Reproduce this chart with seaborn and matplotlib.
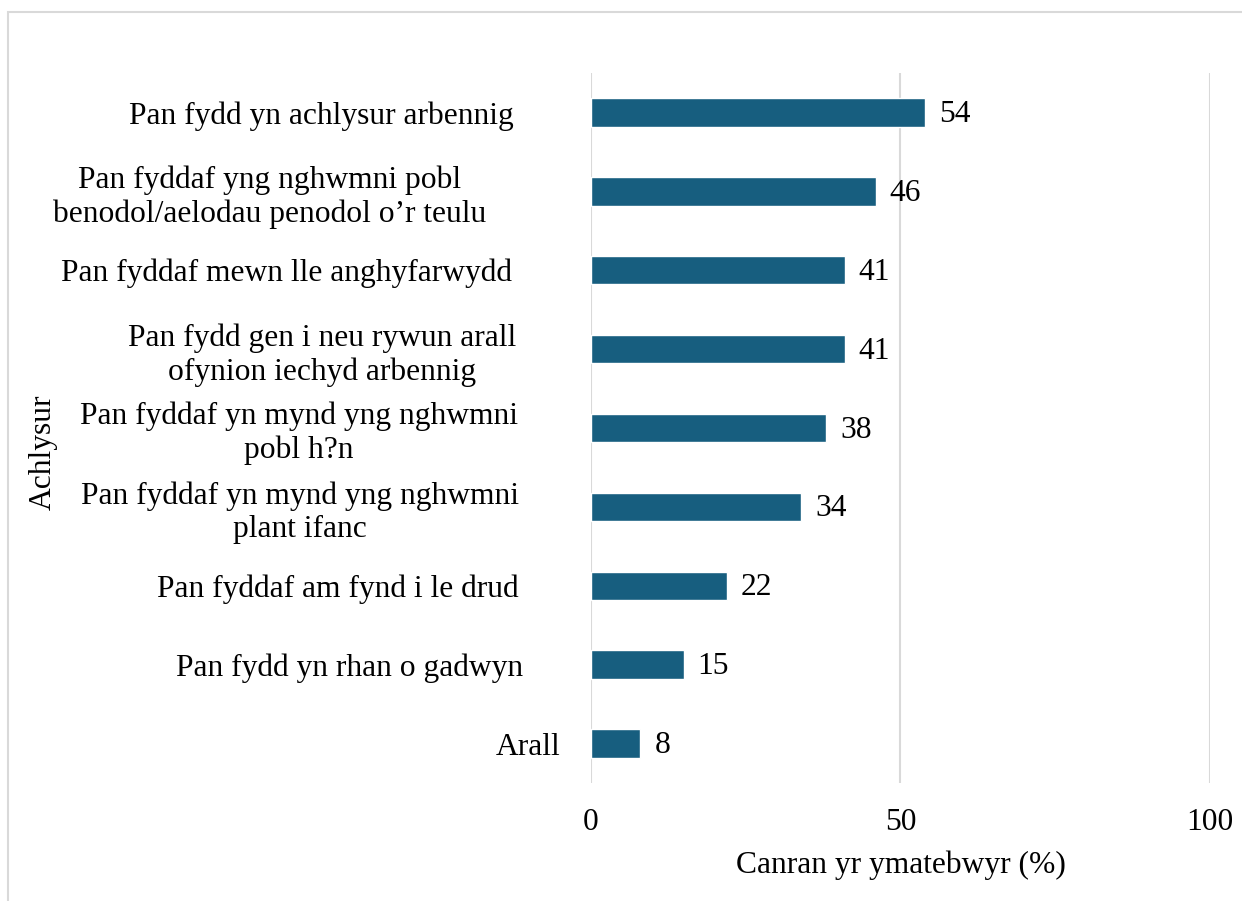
import matplotlib
matplotlib.use("Agg")
import matplotlib.pyplot as plt
import matplotlib.patches as mpatches
from matplotlib.transforms import ScaledTranslation
import seaborn as sns
import pandas as pd

categories = [
    "Pan fydd yn achlysur arbennig",
    "Pan fyddaf yng nghwmni pobl\nbenodol/aelodau penodol o\u2019r teulu",
    "Pan fyddaf mewn lle anghyfarwydd",
    "Pan fydd gen i neu rywun arall\nofynion iechyd arbennig",
    "Pan fyddaf yn mynd yng nghwmni\npobl h?n",
    "Pan fyddaf yn mynd yng nghwmni\nplant ifanc",
    "Pan fyddaf am fynd i le drud",
    "Pan fydd yn rhan o gadwyn",
    "Arall",
]
values = [54, 46, 41, 41, 38, 34, 22, 15, 8]
x_ticks = [0, 50, 100]

# small horizontal nudges (points) for the category labels
label_shift = [-3.5, -23.5, -4.7, -2, -0.5, 0, 0, 3, 29.8]

df = pd.DataFrame({"cat": categories, "val": values})

sns.set_theme(style="white")
plt.rcParams["font.family"] = ["Liberation Serif", "DejaVu Serif"]
FS = 22.7

fig = plt.figure(figsize=(12.42, 9.01), dpi=100)
ax = fig.add_axes([0.4758, 0.131, 0.4984, 0.788])

sns.barplot(data=df, x="val", y="cat", orient="h", color="#175e7f",
            saturation=1, width=0.36, ax=ax)

ax.set_xlim(0, 100)
ax.set_ylim(len(categories) - 0.5, -0.5)
ax.set_xticks(x_ticks)
ax.set_xticklabels([str(t) for t in x_ticks])
for xv in x_ticks:
    ax.axvline(xv, color="#d9d9d9", lw=1.5, zorder=0)

for spine in ax.spines.values():
    spine.set_visible(False)

ax.tick_params(axis="x", length=0, pad=18, labelsize=FS, labelcolor="black")
ax.tick_params(axis="y", length=0, pad=52, labelsize=FS, labelcolor="black")
for lbl, dx in zip(ax.get_yticklabels(), label_shift):
    lbl.set_multialignment("center")
    lbl.set_transform(lbl.get_transform()
                      + ScaledTranslation(dx / 72, 0, fig.dpi_scale_trans))

ax.set_xlabel("Canran yr ymatebwyr (%)", fontsize=FS, labelpad=10, color="black")
ax.set_ylabel("Achlysur", fontsize=FS, color="black")
ax.yaxis.set_label_coords(-0.862, 0.466)

for bar, v in zip(ax.patches, values):
    ax.annotate(str(v), (bar.get_width(), bar.get_y() + bar.get_height() / 2),
                xytext=(10, -1.5), textcoords="offset points",
                va="center", ha="left", fontsize=FS, color="black")

# light frame around the chart area
frame = mpatches.Rectangle((8 / 1242, -0.05), 1.2, 1 - 11.5 / 901 + 0.05,
                           transform=fig.transFigure, fill=False,
                           edgecolor="#d9d9d9", lw=1.5)
fig.patches.append(frame)

fig.savefig("out.png", dpi=100)
